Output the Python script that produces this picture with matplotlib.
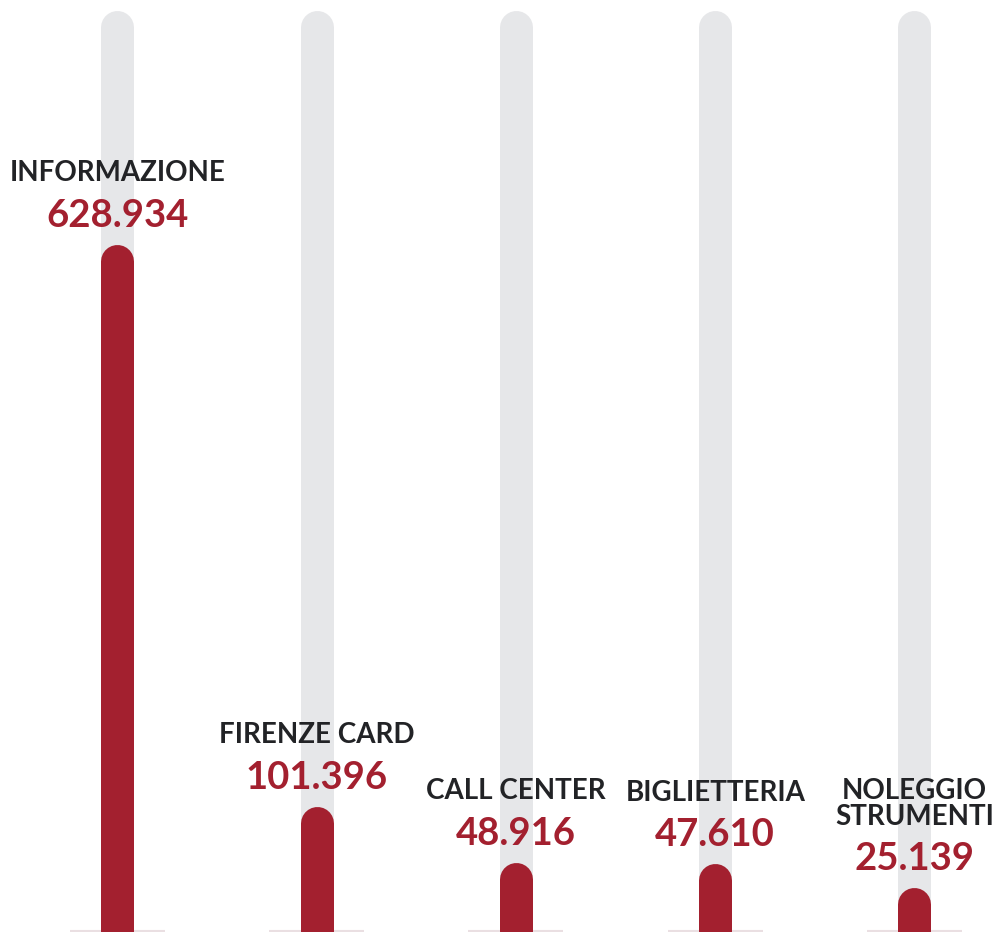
import matplotlib
matplotlib.use("Agg")
import matplotlib.pyplot as plt

categories = ["INFORMAZIONE", "FIRENZE CARD", "CALL CENTER", "BIGLIETTERIA", "NOLEGGIO\nSTRUMENTI"]
values = [628934, 101396, 48916, 47610, 25139]
value_labels = ["628.934", "101.396", "48.916", "47.610", "25.139"]

RED = "#A3202F"
GRAY = "#E6E7E9"
DARK = "#222326"
BASE = "#EADFE2"

W, H = 994, 932
DPI = 100
fig = plt.figure(figsize=(W / DPI, H / DPI), dpi=DPI)
ax = fig.add_axes([0, 0, 1, 1])
ax.set_axis_off()

units_per_px = 1 / 0.001066
bottom_px = 931
ax.set_ylim(-(H - bottom_px) * units_per_px, bottom_px * units_per_px)
spacing = 199.25
x0 = -117.5 / spacing
ax.set_xlim(x0, x0 + W / spacing)

bar_px = 33
lw = bar_px * 72 / DPI
px2pt = 72 / DPI
track_top = (bottom_px - 27) * units_per_px

xs = list(range(len(categories)))
for x, v, cat, lab in zip(xs, values, categories, value_labels):
    # gray track
    ax.plot([x, x], [0, track_top], color=GRAY, lw=lw, solid_capstyle="round", zorder=1)
    # baseline segment
    ax.plot([x - 47.5 / spacing, x + 47.5 / spacing], [0, 0], color=BASE, lw=1.5, zorder=0.5,
            solid_capstyle="butt")
    # red bar
    ax.plot([x, x], [0, v], color=RED, lw=lw, solid_capstyle="round", zorder=2)
    # value label
    num_off = (16.5 + 17.5) * px2pt
    ax.annotate(lab, (x, v), xytext=(0, num_off), textcoords="offset points",
                ha="center", va="baseline", fontsize=27.5, fontweight="bold",
                family="Lato", color=RED, zorder=3)
    lines = cat.split("\n")
    base_off = (16.5 + 17.5 + 45.5) * px2pt
    for i, line in enumerate(reversed(lines)):
        ax.annotate(line, (x, v), xytext=(0, base_off + i * 26 * px2pt), textcoords="offset points",
                    ha="center", va="baseline", fontsize=20, fontweight="bold",
                    family="Lato", color=DARK, zorder=3)

fig.savefig("out.png", dpi=DPI)
